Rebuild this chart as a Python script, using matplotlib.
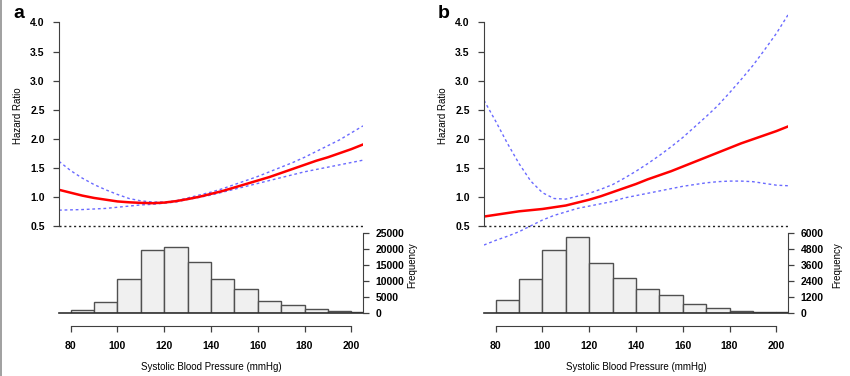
import numpy as np
import matplotlib
matplotlib.use('Agg')
import matplotlib.pyplot as plt
from matplotlib.lines import Line2D

plt.rcParams['font.family'] = ['Liberation Sans', 'DejaVu Sans']

# ── DATA ─────────────────────────────────────────────────────────────────────
sbp = [75, 80, 85, 90, 95, 100, 105, 110, 115, 120, 125, 130, 135, 140,
       145, 150, 155, 160, 165, 170, 175, 180, 185, 190, 195, 200, 205]

# panel a : hazard ratio + CI
hr_a = [1.12, 1.07, 1.02, 0.98, 0.95, 0.92, 0.905, 0.895, 0.89, 0.90, 0.925,
        0.96, 1.00, 1.05, 1.10, 1.16, 1.22, 1.28, 1.34, 1.41, 1.48, 1.55,
        1.62, 1.68, 1.75, 1.82, 1.90]
up_a = [1.61, 1.45, 1.32, 1.21, 1.12, 1.04, 0.97, 0.93, 0.91, 0.91, 0.93,
        0.98, 1.03, 1.08, 1.14, 1.21, 1.28, 1.35, 1.43, 1.51, 1.59, 1.68,
        1.78, 1.88, 1.98, 2.10, 2.22]
lo_a = [0.77, 0.775, 0.78, 0.79, 0.80, 0.82, 0.84, 0.86, 0.87, 0.89, 0.91,
        0.955, 0.99, 1.03, 1.08, 1.13, 1.18, 1.23, 1.28, 1.33, 1.38, 1.43,
        1.47, 1.51, 1.55, 1.59, 1.63]

# panel b : hazard ratio + CI
hr_b = [0.66, 0.69, 0.72, 0.75, 0.77, 0.79, 0.82, 0.85, 0.90, 0.95, 1.01,
        1.08, 1.15, 1.22, 1.30, 1.37, 1.44, 1.52, 1.60, 1.68, 1.76, 1.84,
        1.92, 1.99, 2.06, 2.13, 2.21]
up_b = [2.66, 2.30, 1.92, 1.57, 1.27, 1.07, 0.97, 0.96, 1.01, 1.06, 1.13,
        1.21, 1.32, 1.44, 1.57, 1.71, 1.86, 2.02, 2.20, 2.38, 2.57, 2.79,
        3.02, 3.26, 3.53, 3.81, 4.13]
lo_b = [0.17, 0.25, 0.32, 0.40, 0.50, 0.60, 0.68, 0.74, 0.80, 0.84, 0.88,
        0.92, 0.98, 1.02, 1.06, 1.10, 1.14, 1.18, 1.21, 1.24, 1.26, 1.27,
        1.27, 1.26, 1.23, 1.20, 1.19]

# histograms
bin_edges = [80, 90, 100, 110, 120, 130, 140, 150, 160, 170, 180, 190, 200, 205]
freq_a = [900, 3400, 10600, 19600, 20700, 15900, 10600, 7400, 3600, 2500,
          1200, 700, 300]
freq_b = [980, 2550, 4750, 5680, 3750, 2620, 1780, 1320, 680, 370, 170, 70, 50]

hr_ticks = [0.5, 1.0, 1.5, 2.0, 2.5, 3.0, 3.5, 4.0]
x_ticks = [80, 100, 120, 140, 160, 180, 200]
freq_ticks_a = [0, 5000, 10000, 15000, 20000, 25000]
freq_ticks_b = [0, 1200, 2400, 3600, 4800, 6000]

W, H = 850, 376
AXC = '#404040'
FS = 7.5


def panel(left_px, letter, hr, up, lo, freq, fticks):
    fig = plt.gcf()
    left = left_px / W
    bottom = (H - 313) / H
    ax = fig.add_axes([left, bottom, 304 / W, (313 - 12) / H])
    ax2 = ax.twinx()
    ax.set_zorder(ax2.get_zorder() + 1)
    ax.patch.set_visible(False)

    ax.set_xlim(75, 205)
    ax.set_ylim(-1.0, 4.18)

    # histogram (right axis)
    edges = np.array(bin_edges)
    ax2.bar(edges[:-1], freq, width=np.diff(edges), align='edge',
            facecolor='#f0f0f0', edgecolor='#505050', linewidth=1.0)
    ax2.plot([75, 205], [0, 0], color='#303030', lw=1.2, clip_on=False)
    top = fticks[-1] * 301 / 80
    ax2.set_ylim(0, top)
    ax2.set_yticks(fticks)
    ax2.set_yticklabels([str(t) for t in fticks], fontsize=FS, fontweight='bold')
    for s in ['top', 'left', 'bottom']:
        ax2.spines[s].set_visible(False)
    ax2.spines['right'].set_bounds(0, fticks[-1])
    ax2.spines['right'].set_color(AXC)
    ax2.tick_params(axis='y', length=4, width=0.9, color=AXC, pad=5)

    # hazard ratio curves
    ax.plot(sbp, up, color='#5050ff', lw=1.0, ls=(0, (2, 2)), alpha=0.85)
    ax.plot(sbp, lo, color='#5050ff', lw=1.0, ls=(0, (2, 2)), alpha=0.85)
    ax.plot(sbp, hr, color='red', lw=1.8)
    ax.plot([75, 205], [0.5, 0.5], color='#202020', lw=1.0, ls=(0, (1.5, 2)))

    ax.set_yticks(hr_ticks)
    ax.set_yticklabels([f'{t:.1f}' for t in hr_ticks], fontsize=FS,
                       fontweight='bold')
    ax.spines['left'].set_bounds(0.5, 4.0)
    ax.spines['left'].set_color(AXC)
    ax.spines['top'].set_visible(False)
    ax.spines['right'].set_visible(False)
    ax.spines['bottom'].set_position(('outward', 9))
    ax.spines['bottom'].set_bounds(80, 200)
    ax.spines['bottom'].set_color(AXC)
    ax.set_xticks(x_ticks)
    ax.set_xticklabels([str(t) for t in x_ticks], fontsize=FS, fontweight='bold')
    ax.tick_params(axis='y', length=4.3, width=0.9, color=AXC, pad=6)
    ax.tick_params(axis='x', length=4, width=0.9, color=AXC, pad=7)

    fig.text((left_px - 41) / W, 1 - 116 / H, 'Hazard Ratio', rotation=90,
             ha='center', va='center', fontsize=7)
    fig.text((left_px + 353) / W, 1 - 265 / H, 'Frequency', rotation=90,
             ha='center', va='center', fontsize=7)
    fig.text((left_px + 152) / W, 1 - 367 / H, 'Systolic Blood Pressure (mmHg)',
             ha='center', va='center', fontsize=7)
    fig.text((left_px - 40) / W, 1 - 13 / H, letter, ha='center', va='center',
             fontsize=14, fontweight='bold')


fig = plt.figure(figsize=(8.5, 3.76), dpi=100)
panel(59, 'a', hr_a, up_a, lo_a, freq_a, freq_ticks_a)
panel(484, 'b', hr_b, up_b, lo_b, freq_b, freq_ticks_b)
fig.add_artist(Line2D([0.0015, 0.0015], [0, 1], color='#909090', lw=1.2))

plt.savefig('out.png', dpi=100)
